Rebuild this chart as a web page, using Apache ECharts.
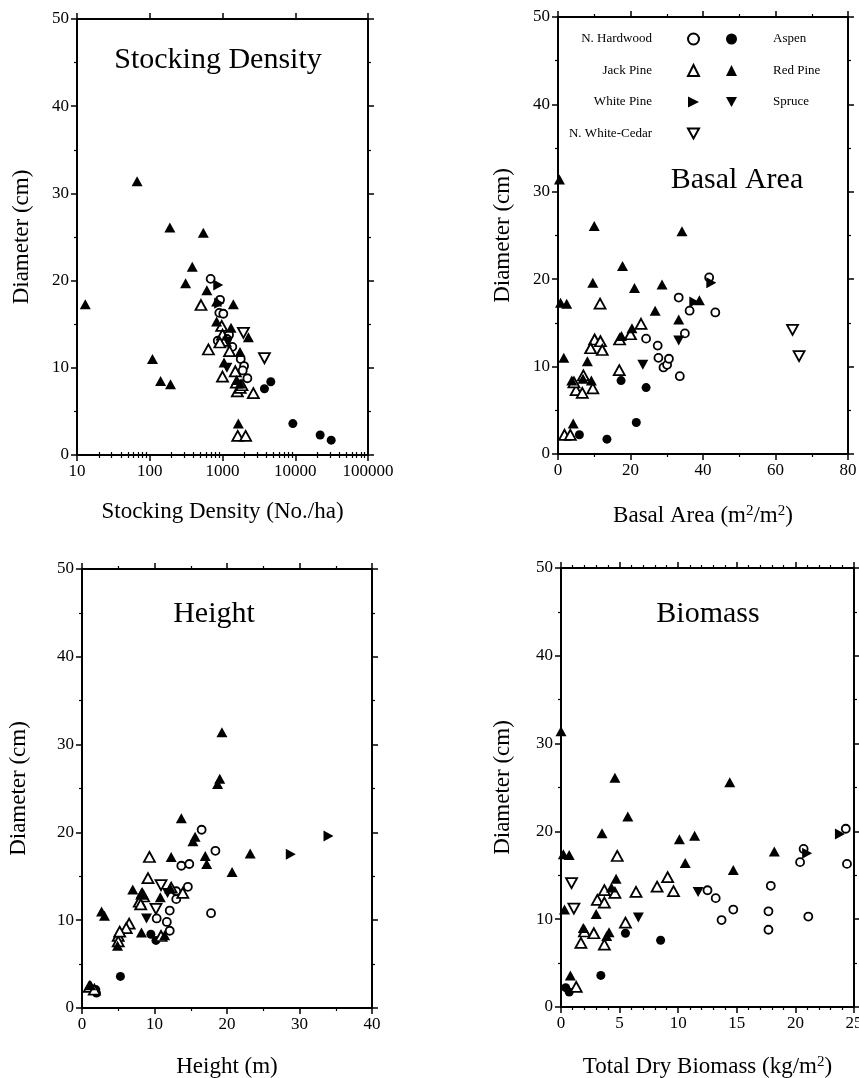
<!DOCTYPE html>
<html>
<head>
<meta charset="utf-8">
<script src="https://cdn.jsdelivr.net/npm/echarts@6/dist/echarts.min.js"></script>
<style>
  html, body { margin: 0; padding: 0; background: #fff; }
  #main { width: 859px; height: 1078px; }
</style>
</head>
<body>
<div id="main"></div>
<script>
// species order used by every panel
var speciesNames = ['N. Hardwood', 'Aspen', 'Jack Pine', 'Red Pine', 'White Pine', 'Spruce', 'N. White-Cedar'];

// Stocking density (No./ha) vs diameter (cm)
var densityHardwood = [[687, 20.2], [925, 17.8], [904, 16.3], [1026, 16.2], [1230, 13.8], [860, 13.1], [1365, 12.4], [1780, 11.0], [1978, 10.2], [1897, 9.7], [2198, 8.8], [1150, 13.3]];
var densityAspen = [[3770, 7.6], [4610, 8.4], [9270, 3.6], [22000, 2.3], [31200, 1.7]];
var densityJackPine = [[506, 17.2], [975, 14.8], [1000, 13.8], [1080, 13.1], [920, 12.9], [640, 12.1], [1250, 11.9], [1000, 9.0], [1600, 7.3], [2655, 7.1], [1620, 2.2], [2080, 2.2], [1750, 7.7], [1500, 9.6], [1850, 8.0], [1550, 8.3]];
var densityRedPine = [[13, 17.3], [67, 31.4], [189, 26.1], [545, 25.5], [384, 21.6], [311, 19.7], [109, 11.0], [141, 8.5], [193, 8.1], [610, 18.9], [1410, 17.3], [830, 15.3], [1310, 14.6], [2270, 13.5], [1740, 11.8], [1570, 8.6], [1750, 8.2], [1650, 3.6], [830, 17.6], [1050, 10.6]];
var densityWhitePine = [[875, 19.5], [900, 17.4]];
var densitySpruce = [[1150, 10.0], [1180, 13.0]];
var densityCedar = [[1938, 14.0], [3770, 11.1]];

// Basal area vs diameter
var basalHardwood = [[24.3, 13.2], [27.5, 12.4], [27.7, 11.0], [29.1, 9.9], [30.1, 10.2], [30.6, 10.9], [33.6, 8.9], [33.3, 17.9], [36.3, 16.4], [35.0, 13.8], [41.7, 20.2], [43.4, 16.2]];
var basalAspen = [[5.9, 2.2], [13.5, 1.7], [21.6, 3.6], [17.4, 8.4], [24.3, 7.6]];
var basalJackPine = [[11.6, 17.2], [10.1, 13.1], [11.7, 12.9], [12.2, 11.9], [9.0, 12.1], [17.0, 13.1], [20.0, 13.7], [22.9, 14.9], [16.9, 9.6], [1.8, 2.2], [3.4, 2.2], [5.0, 7.3], [6.7, 7.0], [9.6, 7.5], [7.0, 9.0], [4.4, 8.2]];
var basalRedPine = [[0.4, 31.4], [0.7, 17.3], [2.4, 17.2], [1.6, 11.0], [10.0, 26.1], [9.6, 19.6], [17.8, 21.5], [21.1, 19.0], [28.7, 19.4], [34.2, 25.5], [26.8, 16.4], [33.3, 15.4], [39.0, 17.6], [8.1, 10.6], [4.2, 3.5], [17.5, 13.5], [20.4, 14.4], [3.8, 8.4], [6.9, 8.6], [9.2, 8.4]];
var basalWhitePine = [[42.3, 19.6], [37.6, 17.4]];
var basalSpruce = [[23.4, 10.2], [33.3, 13.0]];
var basalCedar = [[64.7, 14.2], [66.5, 11.2]];

// Height (m) vs diameter
var heightHardwood = [[16.5, 20.3], [18.4, 17.9], [13.7, 16.2], [14.8, 16.4], [14.6, 13.8], [13.0, 13.3], [13.0, 12.4], [12.1, 11.1], [10.3, 10.2], [11.7, 9.8], [12.1, 8.8], [17.8, 10.8]];
var heightAspen = [[9.5, 8.4], [10.2, 7.7], [5.3, 3.6], [1.9, 2.1], [2.0, 1.7]];
var heightJackPine = [[9.3, 17.2], [9.1, 14.8], [13.9, 13.1], [8.5, 12.7], [7.9, 12.1], [8.3, 13.0], [6.5, 9.6], [6.1, 9.1], [5.0, 8.2], [5.0, 7.6], [10.9, 8.2], [1.0, 2.4], [1.7, 2.1], [12.3, 13.7], [5.2, 8.7], [8.1, 11.8]];
var heightRedPine = [[19.3, 31.4], [19.0, 26.1], [18.7, 25.5], [13.7, 21.6], [15.3, 19.0], [15.6, 19.5], [23.2, 17.6], [17.0, 17.3], [17.2, 16.4], [20.7, 15.5], [12.3, 17.2], [10.8, 12.6], [12.2, 13.6], [7.0, 13.5], [8.2, 13.1], [2.7, 11.0], [3.1, 10.5], [8.2, 8.6], [11.4, 8.3], [4.9, 7.1], [1.2, 2.6]];
var heightWhitePine = [[34.0, 19.6], [28.8, 17.5]];
var heightSpruce = [[11.8, 13.1], [8.9, 10.2]];
var heightCedar = [[10.9, 14.0], [10.2, 11.3]];

// Total dry biomass (kg/m2) vs diameter
var biomassHardwood = [[12.5, 13.3], [13.2, 12.4], [13.7, 9.9], [14.7, 11.1], [17.7, 10.9], [17.7, 8.8], [17.9, 13.8], [20.4, 16.5], [20.7, 18.0], [21.1, 10.3], [24.3, 20.3], [24.4, 16.3]];
var biomassAspen = [[5.5, 8.4], [8.5, 7.6], [3.4, 3.6], [0.4, 2.2], [0.7, 1.7]];
var biomassJackPine = [[4.8, 17.2], [9.1, 14.8], [8.2, 13.7], [9.6, 13.2], [6.4, 13.1], [3.7, 13.3], [4.6, 13.0], [3.1, 12.2], [3.7, 11.9], [5.5, 9.6], [2.0, 8.6], [2.8, 8.4], [1.7, 7.3], [3.7, 7.1], [1.3, 2.3]];
var biomassRedPine = [[0.0, 31.4], [4.6, 26.1], [14.4, 25.6], [5.7, 21.7], [3.5, 19.8], [10.1, 19.1], [11.4, 19.5], [0.2, 17.4], [0.7, 17.3], [10.6, 16.4], [14.7, 15.6], [18.2, 17.7], [4.7, 14.6], [4.3, 13.6], [3.0, 10.6], [0.3, 11.1], [1.9, 9.0], [4.1, 8.5], [3.9, 8.1], [0.8, 3.6]];
var biomassWhitePine = [[23.8, 19.7], [21.0, 17.5]];
var biomassSpruce = [[11.7, 13.1], [6.6, 10.2]];
var biomassCedar = [[0.9, 14.1], [1.1, 11.2]];

var panelTitles = ['Stocking Density', 'Basal Area', 'Height', 'Biomass'];

var FONT = 'Liberation Serif';

// marker look per species (same order as speciesNames)
var speciesStyle = [
    { symbol: 'circle', size: 8, rotate: 0, open: true },
    { symbol: 'circle', size: 9, rotate: 0, open: false },
    { symbol: 'triangle', size: [11, 10], rotate: 0, open: true },
    { symbol: 'triangle', size: [11, 10], rotate: 0, open: false },
    { symbol: 'triangle', size: [11, 10], rotate: -90, open: false },
    { symbol: 'triangle', size: [11, 10], rotate: 180, open: false },
    { symbol: 'triangle', size: [11, 10], rotate: 180, open: true }
];

// legend icons for the rotated triangles
var rightTri = 'path://M0,0L10,5L0,10Z';
var downTri = 'path://M0,0L10,0L5,9Z';

// log minor tick positions (2..9 per decade), in log10 units
var logMinorTicks = [];
[1, 2, 3, 4].forEach(function (d) {
    for (var m = 2; m <= 9; m++) logMinorTicks.push(d + Math.log10(m));
});

function frameAxis(grid, pos, type, min, max, interval, minorSplit, showLabel) {
    var ax = {
        type: type,
        gridIndex: grid,
        position: pos,
        min: min,
        max: max,
        silent: true,
        nameMoveOverlap: false,
        axisLine: { show: true, onZero: false, lineStyle: { color: '#000', width: 2 } },
        axisTick: { show: true, inside: false, length: 6, lineStyle: { color: '#000', width: 1.5 } },
        minorTick: { show: minorSplit > 0, splitNumber: minorSplit || 2, length: 3, lineStyle: { color: '#000', width: 1.2 } },
        splitLine: { show: false },
        minorSplitLine: { show: false },
        axisLabel: {
            show: showLabel, color: '#000', fontFamily: FONT, fontSize: 17, margin: 8,
            showMinLabel: true, showMaxLabel: true
        }
    };
    if (interval) ax.interval = interval;
    return ax;
}

function minorLogAxis(grid, pos) {
    return {
        type: 'value', gridIndex: grid, position: pos, min: 1, max: 5, silent: true,
        axisLine: { show: false },
        axisTick: { show: true, inside: false, length: 3, customValues: logMinorTicks, lineStyle: { color: '#000', width: 1.2 } },
        axisLabel: { show: false },
        splitLine: { show: false }
    };
}

function withName(ax, name, gap) {
    ax.name = name;
    ax.nameLocation = 'middle';
    ax.nameGap = gap;
    ax.nameTextStyle = {
        color: '#000', fontFamily: FONT, fontSize: 23,
        rich: { s: { color: '#000', fontFamily: FONT, fontSize: 15, verticalAlign: 'top' } }
    };
    return ax;
}

// panel 1: log axis + decoration axes
var densityX = frameAxis(0, 'bottom', 'log', 10, 100000, 0, 0, true);
densityX.logBase = 10;
densityX.axisLabel.formatter = function (v) { return String(Math.round(v)); };
withName(densityX, 'Stocking Density (No./ha)', 45);

var xAxes = [
    densityX,                                                   // 0
    minorLogAxis(0, 'bottom'),                                  // 1
    frameAxis(0, 'top', 'value', 1, 5, 1, 0, false),            // 2
    minorLogAxis(0, 'top'),                                     // 3
    withName(frameAxis(1, 'bottom', 'value', 0, 80, 20, 2, true), 'Basal Area (m{s|2}/m{s|2})', 50), // 4
    frameAxis(1, 'top', 'value', 0, 80, 20, 2, false),          // 5
    withName(frameAxis(2, 'bottom', 'value', 0, 40, 10, 2, true), 'Height (m)', 47),  // 6
    frameAxis(2, 'top', 'value', 0, 40, 10, 2, false),          // 7
    withName(frameAxis(3, 'bottom', 'value', 0, 25, 5, 5, true), 'Total Dry Biomass (kg/m{s|2})', 48), // 8
    frameAxis(3, 'top', 'value', 0, 25, 5, 5, false)            // 9
];

var yGaps = [44, 44, 52, 47];
var yAxes = [];
[0, 1, 2, 3].forEach(function (g) {
    yAxes.push(withName(frameAxis(g, 'left', 'value', 0, 50, 10, 2, true), 'Diameter (cm)', yGaps[g]));
    yAxes.push(frameAxis(g, 'right', 'value', 0, 50, 10, 2, false));
});

var panels = [
    { x: 0, y: 0, data: [densityHardwood, densityAspen, densityJackPine, densityRedPine, densityWhitePine, densitySpruce, densityCedar] },
    { x: 4, y: 2, data: [basalHardwood, basalAspen, basalJackPine, basalRedPine, basalWhitePine, basalSpruce, basalCedar] },
    { x: 6, y: 4, data: [heightHardwood, heightAspen, heightJackPine, heightRedPine, heightWhitePine, heightSpruce, heightCedar] },
    { x: 8, y: 6, data: [biomassHardwood, biomassAspen, biomassJackPine, biomassRedPine, biomassWhitePine, biomassSpruce, biomassCedar] }
];

var series = [];
panels.forEach(function (p) {
    speciesNames.forEach(function (name, i) {
        var st = speciesStyle[i];
        series.push({
            name: name,
            type: 'scatter',
            xAxisIndex: p.x,
            yAxisIndex: p.y,
            data: p.data[i],
            symbol: st.symbol,
            symbolSize: st.size,
            symbolRotate: st.rotate,
            itemStyle: st.open
                ? { color: '#fff', borderColor: '#000', borderWidth: 1.8, opacity: 1 }
                : { color: '#000', borderColor: '#000', borderWidth: 0, opacity: 1 },
            emphasis: { disabled: true },
            silent: true,
            z: 3
        });
    });
});

function titleAt(text, cx, cy) {
    return {
        text: text, left: cx, top: cy - 15, textAlign: 'center', padding: 0,
        textStyle: { fontFamily: FONT, fontSize: 30, fontWeight: 'normal', color: '#000' }
    };
}

var legendText = { fontFamily: FONT, fontSize: 13, color: '#000', lineHeight: 14 };

var myChart = echarts.init(document.getElementById('main'), null, { renderer: 'canvas' });

option = {
    backgroundColor: '#fff',
    animation: false,
    title: [
        titleAt(panelTitles[0], 218, 60),
        titleAt(panelTitles[1], 737, 180),
        titleAt(panelTitles[2], 214, 614),
        titleAt(panelTitles[3], 708, 614)
    ],
    legend: [{
        data: [
            'N. Hardwood',
            'Jack Pine',
            { name: 'White Pine', icon: rightTri },
            { name: 'N. White-Cedar', icon: downTri }
        ],
        orient: 'vertical',
        align: 'right',
        right: 159,
        top: 32,
        padding: 0,
        itemWidth: 11,
        itemHeight: 11,
        itemGap: 17.5,
        selectedMode: false,
        textStyle: Object.assign({ padding: [0, 31, 0, 0] }, legendText)
    }, {
        data: [
            'Aspen',
            'Red Pine',
            { name: 'Spruce', icon: downTri }
        ],
        orient: 'vertical',
        align: 'left',
        left: 726,
        top: 32,
        padding: 0,
        itemWidth: 11,
        itemHeight: 11,
        itemGap: 17.5,
        selectedMode: false,
        textStyle: Object.assign({ padding: [0, 0, 0, 31] }, legendText)
    }],
    grid: [
        { left: 77, top: 19, width: 291, height: 436, outerBoundsMode: 'none' },
        { left: 558, top: 17, width: 290, height: 437, outerBoundsMode: 'none' },
        { left: 82, top: 569, width: 290, height: 439, outerBoundsMode: 'none' },
        { left: 561, top: 568, width: 293, height: 439, outerBoundsMode: 'none' }
    ],
    xAxis: xAxes,
    yAxis: yAxes,
    series: series
};

myChart.setOption(option);
</script>
</body>
</html>
